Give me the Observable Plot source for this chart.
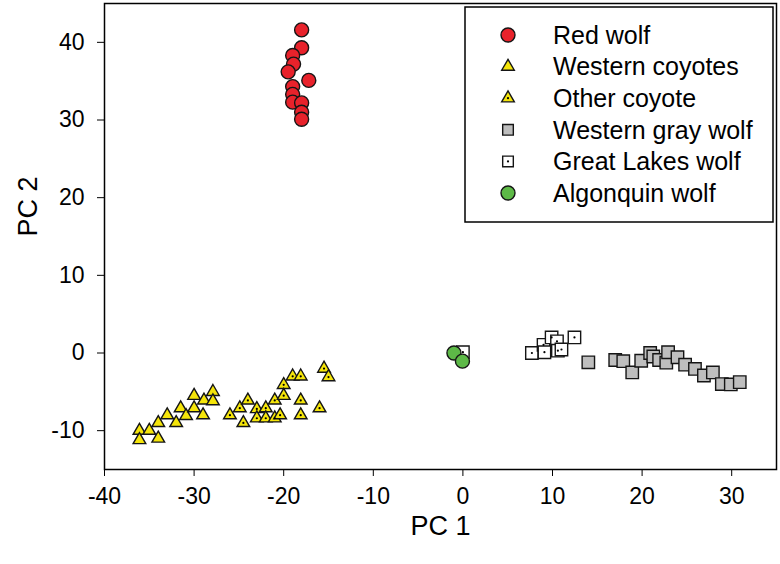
<!DOCTYPE html>
<html><head><meta charset="utf-8">
<script src="https://cdn.jsdelivr.net/npm/d3@7"></script>
<script src="https://cdn.jsdelivr.net/npm/@observablehq/plot@0.6"></script>
<style>
body{margin:0;background:#fff;}
#wrap{position:relative;width:780px;height:564px;font-family:"Liberation Sans",Arial,sans-serif;}
#legend{position:absolute;left:0;top:0;pointer-events:none;}
</style></head><body><div id="wrap"></div>
<script>
const groups = ["Red wolf","Western coyotes","Other coyote","Western gray wolf","Great Lakes wolf","Algonquin wolf"];
const symbols = ["circle","triangle","triangle","square","square","circle"];
const fills = ["#E8222B","#F5E50A","#F5E50A","#BEBEBE","#FFFFFF","#5DB947"];
const hasDot = [false,false,true,false,true,false];
const xTicks = [-40,-30,-20,-10,0,10,20,30];
const yTicks = [-10,0,10,20,30,40];

const redWolf = [[-18.0,41.6],[-18.0,39.3],[-19.0,38.3],[-18.9,37.2],[-19.5,36.2],[-17.2,35.1],[-19.0,34.3],[-19.0,33.3],[-19.0,32.3],[-18.0,32.2],[-18.0,31.0],[-18.0,30.1]];
const westernCoyotes = [[-36.1,-10.0],[-36.1,-11.2],[-35.0,-10.0],[-34.0,-11.0],[-34.0,-9.0],[-33.0,-8.0],[-32.0,-9.0],[-31.5,-7.1],[-30.9,-8.1],[-30.0,-5.5],[-30.0,-7.1],[-29.0,-8.0],[-28.9,-6.1],[-27.9,-5.0],[-27.9,-6.2]];
const otherCoyote = [[-26.0,-8.0],[-24.9,-7.1],[-24.5,-9.0],[-24.0,-6.1],[-23.0,-7.2],[-23.0,-8.4],[-22.0,-7.1],[-22.0,-8.4],[-21.0,-6.1],[-21.0,-8.4],[-20.4,-8.0],[-20.0,-4.1],[-20.0,-5.5],[-19.0,-3.0],[-18.1,-3.0],[-18.1,-6.1],[-18.1,-8.0],[-16.0,-7.1],[-15.5,-2.0],[-15.0,-3.1]];
const westernGrayWolf = [[14.0,-1.2],[17.0,-0.9],[17.9,-1.05],[18.9,-2.5],[19.9,-1.0],[20.9,0.0],[21.25,-0.45],[21.9,-0.9],[22.7,-1.25],[22.9,0.1],[23.95,-0.55],[24.8,-1.5],[25.9,-2.05],[26.9,-2.9],[27.9,-2.5],[28.9,-4.0],[29.9,-4.05],[30.9,-3.75]];
const greatLakesWolf = [[0.0,0.1],[7.7,0.0],[9.0,1.05],[9.1,0.1],[9.9,2.0],[10.5,1.5],[10.6,0.3],[11.0,0.45],[12.45,2.0]];
const algonquinWolf = [[-1.0,0.0],[-0.05,-1.05]];

const series = [redWolf, westernCoyotes, otherCoyote, westernGrayWolf, greatLakesWolf, algonquinWolf];
const radius = {circle:7, triangle:4.7, square:7};
const drawOrder = [1,2,3,4,0,5];

const marks = [];
for (const i of drawOrder) {
  const pts = series[i].map(([x,y]) => ({x, y}));
  marks.push(Plot.dot(pts, {x:"x", y:"y", symbol:symbols[i], r:radius[symbols[i]], fill:fills[i], stroke:"#151515", strokeWidth:1.4}));
  if (hasDot[i]) marks.push(Plot.dot(pts, {x:"x", y:"y", r:1.1, fill:"#000"}));
}

const fmt = d => String(d);
const chart = Plot.plot({
  width:780, height:564,
  marginLeft:104, marginRight:4, marginTop:3, marginBottom:95,
  style:{fontFamily:"'Liberation Sans', Arial, sans-serif", fontSize:"23px", color:"#000", background:"#fff"},
  x:{domain:[-40,35], ticks:xTicks, tickFormat:fmt, tickSize:7, tickPadding:11, label:null},
  y:{domain:[-15,45], ticks:yTicks, tickFormat:fmt, tickSize:7, tickPadding:13, label:null},
  marks:[
    ...marks,
    Plot.frame({stroke:"#000", strokeWidth:1.5}),
    Plot.text(["PC 1"], {frameAnchor:"bottom", dy:65, fontSize:27, lineAnchor:"bottom"}),
    Plot.text(["PC 2"], {frameAnchor:"left", dx:-76, rotate:-90, fontSize:27})
  ]
});
const wrap = document.getElementById("wrap");
wrap.appendChild(chart);

// legend
const lg = d3.select(wrap).append("svg").attr("id","legend").attr("width",780).attr("height",564);
lg.append("rect").attr("x",465).attr("y",7).attr("width",308).attr("height",215)
  .attr("fill","#fff").attr("stroke","#000").attr("stroke-width",1.5);
const symMap = {circle:d3.symbolCircle, triangle:d3.symbolTriangle, square:d3.symbolSquare};
groups.forEach((g,i) => {
  const cy = 35 + i*31.6;
  const r = symbols[i]==="triangle" ? 4.7 : (symbols[i]==="square" ? 6 : 7);
  lg.append("path").attr("transform",`translate(508,${cy})`)
    .attr("d", d3.symbol(symMap[symbols[i]], Math.PI*r*r)())
    .attr("fill",fills[i]).attr("stroke","#151515").attr("stroke-width",1.4);
  if (hasDot[i]) lg.append("circle").attr("cx",508).attr("cy",cy).attr("r",1.1).attr("fill","#000");
  lg.append("text").attr("x",553).attr("y",cy).attr("dy","0.35em")
    .attr("font-size",25).attr("fill","#000").text(g);
});
</script></body></html>
